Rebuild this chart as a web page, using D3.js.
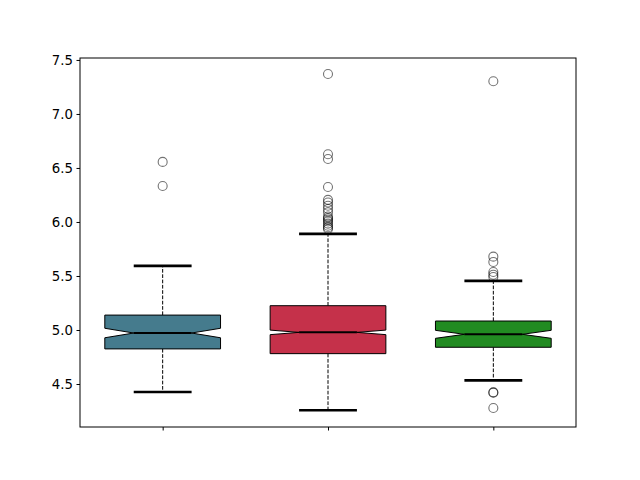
<!DOCTYPE html>
<html><head><meta charset="utf-8">
<script src="https://cdn.jsdelivr.net/npm/d3@7"></script>
<style>body{margin:0;background:#fff}</style>
</head><body>
<svg id="c" width="640" height="480"></svg>
<script>
const categories = ["A", "B", "C"];
const colors = ["#457b8d", "#c5314a", "#228b22"];
const q1 = [4.825, 4.781, 4.840];
const median = [4.972, 4.978, 4.960];
const q3 = [5.138, 5.225, 5.083];
const notchLo = [4.928, 4.957, 4.923];
const notchHi = [5.016, 4.999, 4.997];
const whiskerLo = [4.426, 4.257, 4.534];
const whiskerHi = [5.593, 5.889, 5.454];
const outliers = [
  [6.556, 6.333],
  [7.370, 6.627, 6.583, 6.324, 6.205, 6.180, 6.150, 6.120, 6.090, 6.050, 6.035, 6.020, 6.005, 5.985, 5.965, 5.950, 5.935],
  [7.303, 5.679, 5.630, 5.537, 5.512, 5.490, 4.423, 4.420, 4.278]
];
const yTicks = [4.5, 5.0, 5.5, 6.0, 6.5, 7.0, 7.5];

const L = 80, R = 576, T = 58, B = 427;
const svg = d3.select("#c");
const x = d3.scaleLinear().domain([0.5, 3.5]).range([L, R]);
const y = d3.scaleLinear().domain([4.102, 7.518]).range([B, T]);
const bw = 0.7;

const g = svg.append("g");
categories.forEach((c, i) => {
  const p = i + 1;
  const xl = x(p - bw / 2), xr = x(p + bw / 2), xc = x(p);
  const ml = x(p - bw / 4), mr = x(p + bw / 4);
  g.append("line").attr("x1", xc).attr("x2", xc).attr("y1", y(q3[i])).attr("y2", y(whiskerHi[i]))
    .attr("stroke", "#000").attr("stroke-width", 1).attr("stroke-dasharray", "3.7,1.6");
  g.append("line").attr("x1", xc).attr("x2", xc).attr("y1", y(q1[i])).attr("y2", y(whiskerLo[i]))
    .attr("stroke", "#000").attr("stroke-width", 1).attr("stroke-dasharray", "3.7,1.6");
  [whiskerLo[i], whiskerHi[i]].forEach(v => {
    g.append("line").attr("x1", ml).attr("x2", mr).attr("y1", y(v)).attr("y2", y(v))
      .attr("stroke", "#000").attr("stroke-width", 2.7);
  });
  const pts = [[xl, y(q1[i])], [xr, y(q1[i])], [xr, y(notchLo[i])], [mr, y(median[i])],
    [xr, y(notchHi[i])], [xr, y(q3[i])], [xl, y(q3[i])], [xl, y(notchHi[i])],
    [ml, y(median[i])], [xl, y(notchLo[i])]];
  g.append("path").attr("d", d3.line()(pts) + "Z")
    .attr("fill", colors[i]).attr("stroke", "#000").attr("stroke-width", 1);
  g.append("line").attr("x1", ml).attr("x2", mr).attr("y1", y(median[i])).attr("y2", y(median[i]))
    .attr("stroke", "#000").attr("stroke-width", 2);
  g.selectAll(null).data(outliers[i]).enter().append("circle")
    .attr("cx", xc).attr("cy", d => y(d)).attr("r", 4.5)
    .attr("fill", "none").attr("stroke", "#000").attr("stroke-opacity", 0.55).attr("stroke-width", 1.1);
});

svg.append("rect").attr("x", L).attr("y", T).attr("width", R - L).attr("height", B - T)
  .attr("fill", "none").attr("stroke", "#000").attr("stroke-width", 1);

const ya = svg.append("g").attr("transform", `translate(${L},0)`)
  .call(d3.axisLeft(y).tickValues(yTicks).tickFormat(d3.format(".1f")).tickSize(3.5).tickPadding(3.5));
ya.select(".domain").remove();
ya.selectAll("text").attr("font-family", "DejaVu Sans").attr("font-size", "13.3px").attr("fill", "#000");
ya.selectAll("line").attr("stroke", "#000");

const xa = svg.append("g").attr("transform", `translate(0,${B})`)
  .call(d3.axisBottom(x).tickValues([1, 2, 3]).tickFormat(() => "").tickSize(3.5));
xa.select(".domain").remove();
xa.selectAll("line").attr("stroke", "#000");
</script>
</body></html>
